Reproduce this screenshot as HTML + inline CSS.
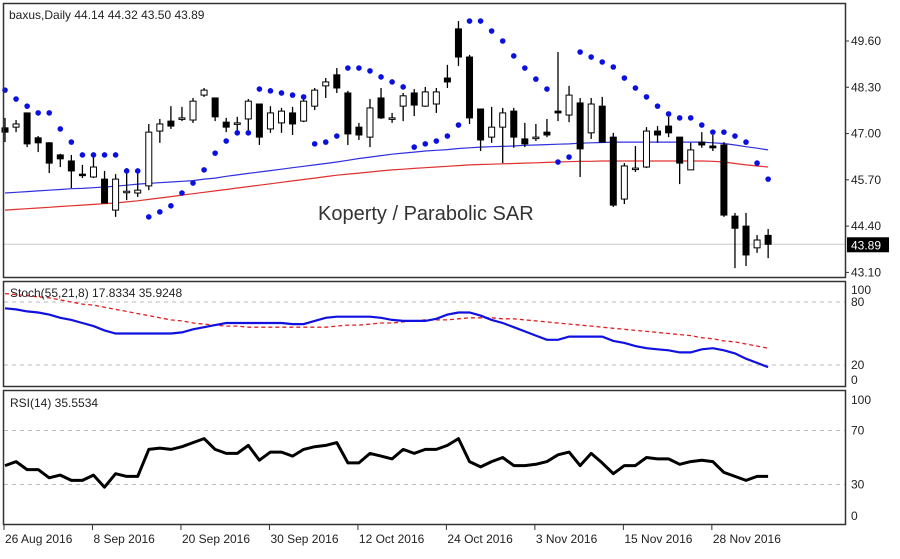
<!DOCTYPE html>
<html><head><meta charset="utf-8"><style>
html,body{margin:0;padding:0;background:#fff;}
svg text{font-family:"Liberation Sans",sans-serif;}
</style></head><body>
<svg id="chart" width="900" height="554" viewBox="0 0 900 554" xmlns="http://www.w3.org/2000/svg">
<rect x="0" y="0" width="900" height="554" fill="#fff"/>
<g id="grid"></g>
<g id="main"></g>
<g id="stoch"></g>
<g id="rsi"></g>
<g id="axes"></g>
<rect x="3.5" y="3.5" width="842" height="274" fill="none" stroke="#333" stroke-width="1.5"/>
<rect x="3.5" y="281.5" width="842" height="105" fill="none" stroke="#333" stroke-width="1.5"/>
<rect x="3.5" y="390.5" width="842" height="134" fill="none" stroke="#333" stroke-width="1.5"/>
<text x="9" y="19" font-size="12" fill="#222">baxus,Daily  44.14 44.32 43.50 43.89</text>
<text x="318" y="220" font-size="20" fill="#333">Koperty / Parabolic SAR</text>
<text x="10" y="297" font-size="12" fill="#222">Stoch(55,21,8) 17.8334 35.9248</text>
<text x="10" y="407" font-size="12" fill="#222">RSI(14) 35.5534</text>
</svg>
<script>
const opens=[47.16,47.18,47.58,46.88,46.74,46.40,46.23,45.86,45.78,45.72,44.85,45.36,45.33,45.53,47.07,47.35,47.44,47.38,48.08,48.00,47.32,47.30,47.41,47.83,47.13,47.30,47.58,47.35,47.77,48.34,48.65,48.14,47.18,46.90,48.00,47.44,47.77,48.14,47.77,47.83,48.56,49.94,49.15,47.69,46.90,47.18,47.63,46.85,46.90,47.04,47.63,47.52,47.86,47.02,47.77,46.90,45.16,46.03,46.06,47.07,47.21,46.90,45.98,46.76,46.65,46.68,44.68,44.40,43.79,44.14];
const highs=[47.44,47.38,47.58,46.93,46.76,46.43,46.40,46.12,46.34,45.95,45.86,46.03,46.00,47.27,47.41,47.77,47.75,48.00,48.28,48.00,47.44,47.47,47.97,47.83,47.77,47.72,47.75,47.97,48.28,48.56,48.84,48.20,47.30,47.97,48.28,47.58,48.14,48.25,48.31,48.28,48.93,50.16,49.21,47.69,47.75,47.72,47.72,47.30,47.27,47.41,49.29,48.34,48.00,48.00,48.03,47.02,46.17,46.65,47.18,47.21,47.47,46.90,46.74,47.04,46.96,46.76,44.77,44.77,44.15,44.32];
const lows=[46.76,47.04,46.62,46.48,45.89,46.06,45.47,45.75,45.75,45.05,44.66,45.13,45.22,45.41,46.74,47.13,47.35,47.30,48.03,47.35,47.04,47.07,47.10,46.68,47.02,47.02,46.96,47.32,47.66,48.00,48.14,46.68,46.82,46.62,47.41,47.30,47.35,47.49,47.75,47.58,48.28,48.90,47.27,46.51,46.74,46.17,46.60,46.62,46.79,46.90,47.35,47.32,45.78,46.85,46.76,44.94,45.02,45.92,46.03,46.74,46.90,45.58,45.98,46.60,46.51,44.66,43.22,43.28,43.65,43.50];
const closes=[47.04,47.27,46.71,46.74,46.17,46.29,45.95,45.84,46.06,45.05,45.72,45.38,45.41,47.04,47.27,47.21,47.44,47.91,48.22,47.47,47.18,47.30,47.91,46.90,47.58,47.63,47.27,47.91,48.22,48.45,48.28,46.99,46.96,47.72,47.44,47.44,48.06,47.80,48.17,48.17,48.45,49.15,47.44,46.82,47.18,47.58,46.90,46.71,46.90,46.96,47.58,48.08,46.57,47.83,46.76,44.99,46.09,46.03,47.07,46.96,47.02,46.17,46.54,46.68,46.60,44.71,44.34,43.59,44.01,43.89];
const sar=[48.22,47.97,47.77,47.58,47.58,47.13,46.76,46.40,46.40,46.40,46.40,45.95,45.95,44.66,44.80,44.97,45.33,45.61,45.98,46.45,46.79,47.02,47.02,48.25,48.20,48.14,48.08,48.03,46.71,46.76,46.93,48.84,48.84,48.76,48.59,48.45,48.31,46.62,46.71,46.79,46.93,47.24,50.16,50.16,49.88,49.60,49.18,48.84,48.53,48.25,46.20,46.34,49.29,49.15,49.01,48.87,48.56,48.28,48.03,47.77,47.55,47.44,47.44,47.24,47.04,47.04,46.93,46.76,46.17,45.72];
const envUpper=[45.33,45.35,45.37,45.39,45.41,45.43,45.45,45.46,45.48,45.50,45.52,45.55,45.58,45.60,45.62,45.64,45.66,45.68,45.72,45.75,45.80,45.84,45.88,45.92,45.96,46.00,46.04,46.08,46.12,46.16,46.20,46.25,46.30,46.34,46.38,46.42,46.45,46.48,46.51,46.53,46.55,46.58,46.60,46.62,46.63,46.64,46.65,46.67,46.68,46.69,46.70,46.71,46.73,46.74,46.75,46.76,46.76,46.76,46.76,46.76,46.76,46.76,46.76,46.76,46.74,46.72,46.68,46.63,46.59,46.54];
const envLower=[44.85,44.87,44.89,44.91,44.93,44.95,44.97,44.99,45.01,45.03,45.05,45.08,45.11,45.15,45.19,45.23,45.27,45.31,45.35,45.39,45.43,45.47,45.51,45.55,45.59,45.63,45.67,45.71,45.75,45.79,45.83,45.86,45.89,45.92,45.95,45.98,46.00,46.02,46.04,46.06,46.08,46.10,46.12,46.13,46.14,46.15,46.16,46.17,46.18,46.19,46.20,46.21,46.22,46.22,46.23,46.23,46.23,46.23,46.23,46.23,46.23,46.23,46.23,46.23,46.22,46.20,46.16,46.12,46.09,46.06];
const stochMain=[74,73,71,70,68,65,63,60,57,53,50,50,50,50,50,50,51,54,56,58,60,60,60,60,60,60,59,59,62,65,66,66,66,66,65,63,62,62,62,64,68,70,70,67,63,60,56,52,48,44,44,47,47,47,47,43,41,38,36,35,34,32,32,35,36,34,31,26,22,18];
const stochSignal=[88,87,86,85,84,82,80,78,77,75,73,71,69,67,65,63,62,60,59,58,57,57,56,56,56,56,56,56,56,56,57,58,58,59,60,60,61,62,63,63,63,64,65,65,65,64,64,63,62,61,60,59,58,57,56,55,54,53,52,51,50,49,48,46,45,43,42,40,38,36];
const rsiValues=[44,47,41,41,35,37,33,33,37,28,38,36,36,56,57,56,58,61,64,56,53,53,59,48,54,54,51,56,58,59,61,46,46,53,51,49,56,53,56,56,59,64,47,43,47,50,44,44,45,47,52,54,44,53,46,38,44,44,50,49,49,45,47,48,47,39,36,33,36,36];
const priceTicks=[49.60,48.30,47.00,45.70,44.40,43.10];
const stochTicks=[100,80,20,0];
const stochLevels=[80,20];
const rsiTicks=[100,70,30,0];
const rsiLevels=[70,30];
const dateLabels=["26 Aug 2016","8 Sep 2016","20 Sep 2016","30 Sep 2016","12 Oct 2016","24 Oct 2016","3 Nov 2016","15 Nov 2016","28 Nov 2016"];
const dateIndex=[0,8,16,24,32,40,48,56,64];
const lastPrice=43.89;

const NS="http://www.w3.org/2000/svg";
function mk(tag,attrs,parent){const e=document.createElementNS(NS,tag);for(const k in attrs)e.setAttribute(k,attrs[k]);parent.appendChild(e);return e;}
const xOf=i=>5+i*11.06;
const yPrice=v=>41+(49.6-v)*35.6;
const yStoch=v=>386-v*1.05;
const yRsi=v=>525-v*1.35;
const gMain=document.getElementById('main'),gSt=document.getElementById('stoch'),gR=document.getElementById('rsi'),gAx=document.getElementById('axes'),gGrid=document.getElementById('grid');

// last price line
let lp=mk('line',{x1:4,x2:845,y1:yPrice(lastPrice),y2:yPrice(lastPrice),stroke:'#c8c8c8','stroke-width':1},gGrid);



function poly(arr,yf,attrs,parent,name){
  const pts=arr.map((v,i)=>xOf(i).toFixed(1)+','+yf(v).toFixed(1)).join(' ');
  const p=mk('polyline',Object.assign({points:pts,fill:'none'},attrs),parent);
  
  
}
// envelopes: extend slightly to left edge
poly(envLower,yPrice,{stroke:'#e03030','stroke-width':1.2},gMain,'envelope-lower-line');
poly(envUpper,yPrice,{stroke:'#3030e0','stroke-width':1.2},gMain,'envelope-upper-line');

// candles
for(let i=0;i<opens.length;i++){
  const x=xOf(i),o=opens[i],c=closes[i];
  const w=mk('line',{x1:x,x2:x,y1:yPrice(highs[i]),y2:yPrice(lows[i]),stroke:'#000','stroke-width':1.3},gMain);
  
  
  const top=yPrice(Math.max(o,c)),bot=yPrice(Math.min(o,c));
  const h=Math.max(bot-top,1.5);
  const b=mk('rect',{x:x-3,y:top,width:6,height:h,fill:c<o?'#000':'#fff',stroke:'#000','stroke-width':1},gMain);
  
  
}
// SAR
for(let i=0;i<sar.length;i++){
  const d=mk('circle',{cx:xOf(i),cy:yPrice(sar[i]),r:2.8,fill:'#0a10e0'},gMain);
  
  
}
// price axis
priceTicks.forEach(v=>{
  const y=yPrice(v);
  mk('line',{x1:845,x2:849,y1:y,y2:y,stroke:'#333'},gAx);
  const t=mk('text',{x:851,y:y+4,'font-size':12,fill:'#222'},gAx);
  t.textContent=v.toFixed(2);
  
  
});
const bx=mk('rect',{x:847,y:yPrice(lastPrice)-7,width:42,height:15,fill:'#000'},gAx);


const bt=mk('text',{x:851,y:yPrice(lastPrice)+5,'font-size':12,fill:'#fff'},gAx);
bt.textContent=lastPrice.toFixed(2);



// stoch
stochLevels.forEach(v=>{
  const l=mk('line',{x1:4,x2:845,y1:yStoch(v),y2:yStoch(v),stroke:'#bbb','stroke-dasharray':'4,4'},gSt);
  
  
});
poly(stochSignal,yStoch,{stroke:'#e02020','stroke-width':1.3,'stroke-dasharray':'4,3'},gSt,'stoch-signal-line');
poly(stochMain,yStoch,{stroke:'#1010e0','stroke-width':2.2},gSt,'stoch-main-line');
stochTicks.forEach(v=>{
  const y=Math.min(Math.max(yStoch(v),290),380);
  const t=mk('text',{x:851,y:y+4,'font-size':12,fill:'#222'},gAx);
  t.textContent=v;
  
  
});
// rsi
rsiLevels.forEach(v=>{
  const l=mk('line',{x1:4,x2:845,y1:yRsi(v),y2:yRsi(v),stroke:'#bbb','stroke-dasharray':'4,4'},gR);
  
  
});
poly(rsiValues,yRsi,{stroke:'#000','stroke-width':3,'stroke-linejoin':'round'},gR,'rsi-line');
rsiTicks.forEach(v=>{
  const y=Math.min(Math.max(yRsi(v),400),516);
  const t=mk('text',{x:851,y:y+4,'font-size':12,fill:'#222'},gAx);
  t.textContent=v;
  
  
});
// time axis
dateLabels.forEach((s,k)=>{
  const x=xOf(dateIndex[k])-1;
  mk('line',{x1:x,x2:x,y1:525,y2:530,stroke:'#333'},gAx);
  const t=mk('text',{x:x+1,y:543,'font-size':12,fill:'#222'},gAx);
  t.textContent=s;
  
  
});
</script>
</body></html>
